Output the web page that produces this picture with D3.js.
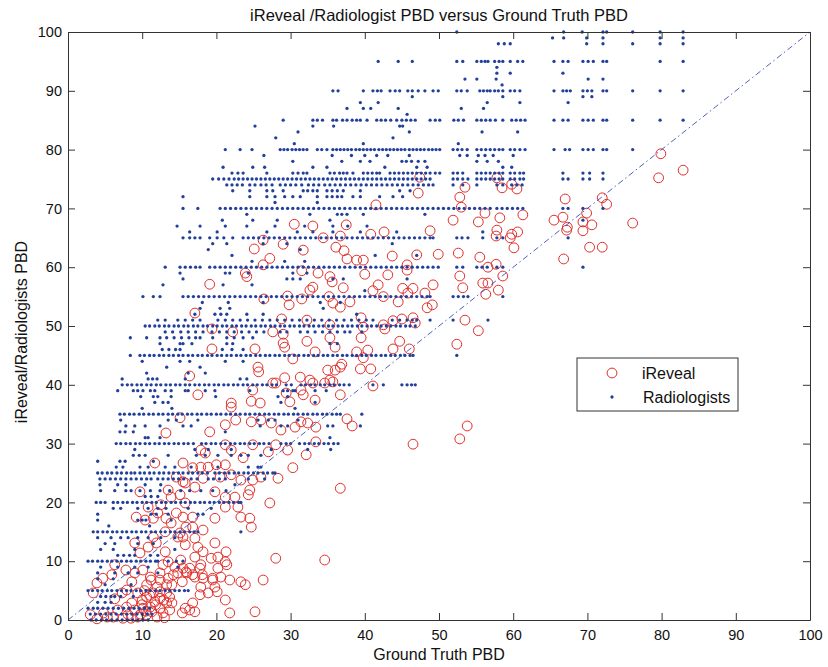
<!DOCTYPE html>
<html><head><meta charset="utf-8">
<script src="https://cdn.jsdelivr.net/npm/d3@7"></script>
<style>
body{margin:0;background:#fff}
text{font-family:"Liberation Sans",Arial,Helvetica,sans-serif;fill:#111}
</style>
</head><body>
<svg id="chart" width="828" height="667"></svg>
<script>
const title = "iReveal /Radiologist PBD versus Ground Truth PBD";
const xLabel = "Ground Truth PBD";
const yLabel = "iReveal/Radiologists PBD";
const xTicks = [0,10,20,30,40,50,60,70,80,90,100];
const yTicks = [0,10,20,30,40,50,60,70,80,90,100];
const seriesNames = ["iReveal","Radiologists"];

// Radiologist readings: one y level per entry of radLevels, x values (ground truth) in radXs
const radLevels = [100,99,98,95,94,93,92,91,90,89,88,87,86,85,84,83,82,81,80,79,78,77,76,75,74,73,72,71,70,69,68,67,66,65,64,63,62,61,60,59,58,57,56,55,54,53,52,51,50,49,48,47,46,45,44,43,42,41,40,39,38,37,36,35,34,33,32,31,30,29,28,27,26,25,24,23,22,21,20,19,18,17,16,15,14,13,12,11,10,9,8,7,6,5,4,3,2,1,0];
const radXs = [
/*100*/[52.4,66.8,69.3,72.1,72.6,76.1,79.8,82.9],
/*99*/[65.3,66.8,69.9,72.1,79.8,82.9],
/*98*/[58.0,58.8,59.6,69.9,72.1,76.1,79.8,82.9],
/*95*/[41.8,44.5,46.4,52.4,53.2,55.1,55.7,56.2,56.6,57.5,58.1,58.6,59.6,60.6,61.3,65.5,66.7,67.4,69.4,70.1,70.8,72.1,72.6,79.8,82.9],
/*94*/[57.8],
/*93*/[57.8,59.6,66.7],
/*92*/[53.5,55.1,57.7,70.1,72.1],
/*91*/[58.5],
/*90*/[35.7,36.4,39.8,41.1,41.7,42.2,43.4,44.1,44.7,45.8,46.4,47.2,48.1,49.2,49.9,52.4,53.0,53.8,55.5,56.0,56.5,56.9,57.5,58.0,58.6,59.6,60.2,60.9,65.5,66.7,67.2,67.7,69.4,70.0,70.6,72.1,72.6,76.1,79.8,82.9],
/*89*/[46.4,58.6,69.4,70.6],
/*88*/[39.4,41.8,56.5,60.9,67.4],
/*87*/[37.6,39.8,40.8,44.5,53.0,56.0],
/*86*/[45.7],
/*85*/[29.0,33.0,33.6,34.3,35.7,36.2,37.0,37.6,38.3,38.9,39.4,40.3,41.6,42.2,42.8,43.5,44.3,45.0,45.6,46.2,46.8,48.8,49.5,50.1,52.0,52.6,53.3,55.1,55.7,56.3,56.9,57.6,58.6,59.8,60.4,61.0,61.6,65.5,66.7,67.4,69.4,70.1,70.8,72.1,72.6,76.1,79.8,82.9],
/*84*/[25.2,33.0,35.8,44.7,45.1],
/*83*/[31.0,46.0,55.8,60.6],
/*82*/[28.0,43.8],
/*81*/[30.5,39.8,52.6],
/*80*/[21.2,23.2,24.8,28.6,29.1,29.6,30.2,30.7,31.2,31.7,32.2,33.6,34.2,34.9,35.7,36.2,36.7,37.2,37.7,38.2,38.8,39.3,39.8,40.3,40.8,41.3,41.9,42.4,42.9,43.4,43.9,44.4,44.9,45.4,46.0,46.5,47.0,47.5,48.0,48.6,49.1,49.6,50.1,51.9,52.5,53.1,53.8,55.1,55.7,56.3,56.9,57.5,58.1,58.6,59.6,60.2,60.9,61.6,65.5,67.0,67.6,69.4,70.1,70.8,72.1,72.6,76.1],
/*79*/[26.4,35.6,38.2,40.0,41.6,43.1,46.0,52.8,53.8,55.3,56.2,57.3,60.0],
/*78*/[30.3,36.9,39.4,40.7,45.0,45.6,46.3,47.2,48.1,55.1,56.5,58.0],
/*77*/[20.9,24.9,26.5,33.0,34.9,42.7,47.0,48.4,58.6,59.8],
/*76*/[22.1,22.9,23.6,26.8,30.3,31.0,31.7,32.2,35.3,35.9,36.6,37.1,37.6,38.4,39.8,40.4,41.0,41.6,42.0,43.4,44.0,44.6,45.2,45.8,46.4,47.0,47.6,48.2,48.8,49.5,50.1,51.9,52.5,53.2,55.1,55.7,56.3,56.9,57.5,58.1,58.6,59.6,60.2,60.9,61.4,66.7,69.4,70.3,72.1],
/*75*/[19.5,20.3,21.0,21.7,22.4,23.0,23.6,24.2,24.8,25.4,26.0,26.6,27.2,27.8,28.4,29.0,29.6,30.2,30.8,31.4,32.0,32.6,33.2,33.8,34.4,35.0,35.6,36.2,36.8,37.4,38.0,38.6,39.2,39.8,40.4,41.0,41.6,42.2,42.8,43.4,44.0,44.6,45.2,45.8,46.4,47.0,47.6,48.2,48.8,51.9,52.5,53.2,53.9,55.1,55.7,56.3,56.9,57.5,58.1,58.6,59.6,60.2,60.9,61.4,66.7,67.4,69.4,70.3,72.1],
/*74*/[21.4,22.1,22.8,23.5,24.5,25.2,26.0,26.7,27.5,28.6,29.3,30.0,30.7,31.5,32.4,33.1,33.8,34.6,35.3,36.0,36.7,37.4,38.1,38.8,39.5,40.2,40.9,41.6,42.3,43.0,43.7,44.4,45.1,45.8,46.5,47.2,47.9,48.6,49.2,51.9,53.2,55.1,57.8,58.6,59.8,60.5,61.2],
/*73*/[22.2,24.5,26.8,27.6,29.0,31.7,32.3,33.0,33.6,34.9,35.6,36.3,37.1,39.4,44.7,46.1],
/*72*/[15.5,24.5,26.8,27.9,29.2,30.3,31.3,33.6,34.9,35.6,36.3,36.9,38.4,39.4,42.0,43.8,45.1],
/*71*/[27.9,33.6],
/*70*/[15.5,17.5,20.5,21.2,21.9,22.6,23.3,24.0,24.7,25.4,26.1,26.8,27.5,28.2,28.9,29.6,30.3,31.0,31.7,32.4,33.1,33.8,34.5,35.2,35.9,36.6,37.3,38.0,38.7,39.4,40.1,40.8,41.5,42.2,42.9,43.6,44.3,45.0,45.7,46.4,47.1,47.8,48.5,49.2,49.9,50.6,51.3,52.0,52.7,53.4,54.1,54.8,55.5,56.2,56.9,57.8,58.5,59.2,59.9,60.6,61.3,66.7,67.4,69.4,72.1],
/*69*/[24.1,32.6,36.3,36.9,37.6,39.8,48.1],
/*68*/[20.8,24.9,28.2,35.3,69.4],
/*67*/[14.7,17.8,21.2,24.1,27.9,31.9,35.7,37.7,40.3],
/*66*/[16.4,20.1,26.8,30.9,33.0,35.7,39.4,44.3,55.9],
/*65*/[15.5,16.4,17.1,17.8,19.1,20.1,21.0,22.2,23.6,24.3,25.0,25.7,26.4,27.1,27.8,28.5,29.2,29.9,30.6,31.3,32.0,32.7,33.4,34.1,34.8,35.5,36.2,36.9,37.6,38.3,39.0,39.7,40.4,41.1,41.8,42.5,43.2,43.9,44.6,45.3,46.0,46.7,47.4,48.1,48.8,49.2,52.4,53.1,53.9,55.9,57.8,58.6,67.4],
/*64*/[19.5,21.4,26.3,29.5,43.7],
/*63*/[18.9,31.3],
/*62*/[22.1,41.4,47.0],
/*61*/[24.8,29.2,31.9],
/*60*/[13.1,15.1,15.8,16.5,17.2,17.8,19.1,19.8,20.5,21.2,21.9,22.6,23.3,24.0,24.7,25.4,26.1,26.8,27.5,28.2,28.9,29.6,30.3,31.0,31.7,32.4,33.1,33.8,34.5,35.2,35.9,36.6,37.3,38.0,38.7,39.4,40.1,40.8,41.5,42.2,42.9,43.6,44.3,45.0,45.7,46.4,47.1,47.8,48.5,49.2,49.9,52.4,53.2,55.1,55.8,56.5,57.8,58.6,69.4],
/*59*/[15.1,21.2,21.8,24.3,30.3,32.2],
/*58*/[15.5,29.5,30.3,31.3,35.7,37.1,45.7],
/*57*/[12.8,20.9,24.8],
/*56*/[40.0],
/*55*/[10.1,11.5,12.4,15.5,16.2,16.9,17.6,18.3,19.0,19.7,20.4,21.1,21.8,22.5,23.2,23.9,24.6,25.3,26.0,26.7,27.4,28.1,28.8,29.5,30.2,30.9,31.6,32.3,33.0,33.7,34.4,35.1,35.8,36.5,37.2,37.9,38.6,39.3,40.0,40.7,41.4,42.1,42.8,43.5,44.2,44.9,45.6,46.3,47.0,47.7,48.4,48.8,51.9,52.6,53.3,53.9,58.6],
/*54*/[18.1,21.6,26.3,34.0,36.7],
/*53*/[17.8,20.5,21.8,34.4],
/*52*/[17.1,19.8,20.6,21.4,24.1,26.3,38.9],
/*51*/[12.1,13.1,14.8,15.8,16.8,17.8,20.2,21.2,22.2,23.2,24.2,25.2,26.2,27.2,28.2,29.2,30.2,31.2,32.2,33.2,34.2,35.2,36.2,37.2,38.2,39.2,40.2,41.1,43.7,44.7,45.7,46.4,47.0,48.8,51.9,56.6],
/*50*/[10.4,11.0,11.7,12.3,13.0,13.6,14.3,14.9,15.6,16.2,16.9,17.5,18.2,18.8,19.5,20.1,20.8,21.4,22.1,22.7,23.4,24.0,24.7,25.3,26.0,26.6,27.3,27.9,28.6,29.2,29.9,30.5,31.2,31.8,32.5,33.1,33.8,34.4,35.1,35.7,36.4,37.0,37.7,38.3,39.0,39.6,40.3,40.9,41.6,42.2,42.9,43.5,44.2,44.8,45.5,46.1,46.8],
/*49*/[13.1,14.1,15.2,16.2,17.2,18.2,19.4,20.4,21.4,22.4,23.4,24.4,25.4,26.4,28.6,29.5,31.3,32.3,33.3,34.3,35.3,36.3,37.3,38.0,39.6],
/*48*/[8.4,10.6,12.4,13.3,14.3,15.3,16.3,17.2,17.8,19.5,21.4,22.4,23.6,24.9],
/*47*/[12.4,15.1,15.5,16.7,21.4,22.2,35.3,36.3],
/*46*/[12.7,13.6,14.5,15.1,20.8,22.1,23.6],
/*45*/[8.4,9.7,10.3,11.0,11.6,12.3,12.9,13.6,14.2,14.9,15.5,16.2,16.8,17.5,18.1,18.8,19.4,20.1,20.7,21.4,22.0,22.7,23.3,24.0,24.6,25.3,25.9,26.6,27.2,27.9,28.5,29.2,29.8,30.5,31.1,31.8,32.4,33.1,33.7,34.4,35.0,35.7,36.3,37.0,37.6,38.3,38.9,39.6,40.2,40.9,41.5,42.2,42.8,43.5,44.1,44.8,45.4,46.1,46.5,52.4],
/*44*/[10.0,15.1,16.4,21.2,23.6],
/*43*/[13.3,17.8],
/*42*/[10.6,16.2,18.5],
/*41*/[7.3,10.8,11.4,12.0,15.8,23.2,24.1],
/*40*/[7.3,8.0,8.6,9.3,9.9,10.6,11.2,11.9,12.5,13.2,13.8,14.5,15.1,15.8,16.4,17.1,17.7,18.4,19.0,19.7,20.3,21.0,21.6,22.3,22.9,23.6,24.2,24.9,25.5,26.2,26.8,27.5,28.1,29.4,30.1,31.4,32.0,32.7,33.3,34.0,34.6,35.3,35.9,36.6,37.2,37.9,41.1,42.5,45.0,45.7,46.3,46.8],
/*39*/[6.7,8.8,9.4,10.1,11.1,11.7,13.1,13.9,15.8,16.2,18.5,19.8,24.5,29.0,29.6,30.3,30.6,33.3,34.8],
/*38*/[9.8,11.5,12.1,13.9,19.9,28.3,29.6],
/*37*/[11.7,12.8,13.5,28.7,33.3],
/*36*/[10.0,14.0,30.6],
/*35*/[7.0,7.6,8.3,8.9,9.6,10.2,10.9,11.5,12.2,12.8,13.5,14.1,14.8,15.4,16.1,16.7,17.4,18.0,18.7,19.3,20.0,20.6,21.3,21.9,22.6,23.2,23.9,24.5,25.2,25.8,26.5,27.1,27.8,28.4,29.1,29.7,30.4,31.0,31.7,32.3,33.0,33.6,34.3,34.9,35.6,36.2,36.7,39.6],
/*34*/[7.1,13.5,14.6,17.5,25.6,27.0,27.9,31.0],
/*33*/[7.8,9.0,10.4,12.4,15.5,16.6,25.9,28.7,29.6,35.0,35.7,39.4],
/*32*/[7.0,7.7,8.8,21.2],
/*31*/[10.4,10.8,12.4,35.3],
/*30*/[6.5,7.1,7.8,8.4,9.1,9.7,10.4,11.0,11.7,12.3,13.0,13.6,14.3,14.9,15.6,16.2,16.9,18.0,18.6,19.3,19.9,20.6,21.2,21.9,22.5,23.2,23.8,24.5,25.1,25.8,26.4,27.1,28.7,29.4,30.0,31.2,31.9,32.5,33.2,33.8,34.5,35.1,35.8,36.4],
/*29*/[9.0,17.1,18.9,22.0,27.4,32.3,35.4],
/*28*/[8.8,9.6,10.4,13.5,17.3,18.5,20.2,22.0,23.3,24.3,26.0],
/*27*/[4.0,7.0,7.7,11.5],
/*26*/[6.5,7.4,9.7,10.8,13.1,14.4,16.6,20.2,24.3,25.6,26.0],
/*25*/[4.0,4.6,5.3,5.9,6.6,7.2,7.9,8.5,9.0,9.7,10.3,11.0,11.6,12.3,12.9,13.6,14.2,14.9,15.5,16.2,16.8,17.5,18.1,18.8,19.8,20.4,21.1,21.7,22.4,23.0,23.7,24.3,25.0,25.6,26.3,26.9,27.6,27.9],
/*24*/[4.3,5.0,5.7,6.4,7.1,7.8,8.5,9.2,9.9,10.6,11.2,12.1,12.8,13.5,14.2,14.9,15.6,16.6,17.4,18.9,19.6,20.4,21.2,24.3,26.5],
/*23*/[4.3,6.7,7.8,10.4,12.5,22.5],
/*22*/[4.4,6.3,7.8,8.5,9.7,11.1,12.4,13.7,15.2,16.4,17.9,19.5,21.3],
/*21*/[10.4,11.2,12.1],
/*20*/[3.8,4.4,5.0,6.1,6.7,7.4,8.0,8.7,9.3,10.0,10.6,11.3,11.9,12.6,13.2,13.9,14.5,15.2,15.8,16.5,17.1,17.8,18.4,19.1,19.7,20.4,21.0,21.7,22.3,23.0,23.3],
/*19*/[6.1,7.1,9.4,10.8,12.1,13.2,16.2,19.3],
/*18*/[4.0,11.2,11.9,13.5,17.5,18.2],
/*17*/[4.0,9.4,10.0,10.5,13.9],
/*16*/[5.5,11.0],
/*15*/[3.4,4.0,4.7,5.3,6.0,6.6,7.3,7.9,8.6,9.2,9.9,10.5,11.2,11.8,12.5,13.1,13.8,14.4,15.1,15.7,16.4,17.0,17.5,23.3],
/*14*/[4.0,5.8,7.1,8.1,9.4,10.8,12.5,14.4],
/*13*/[5.0,6.3,9.4,11.5],
/*12*/[4.4,6.1,9.0,14.4],
/*11*/[6.7,7.5,8.3,9.0,11.1,12.1],
/*10*/[2.7,3.3,4.0,4.6,5.3,5.9,6.6,7.2,7.9,8.5,9.2,9.8,10.5,11.1,11.8,12.1,13.5,14.6,15.5],
/*9*/[4.4,6.7,9.0,10.8,14.8],
/*8*/[4.0,6.3,8.1,9.4,12.1],
/*7*/[4.0,6.1],
/*6*/[5.0,8.5],
/*5*/[2.7,3.3,4.0,4.6,5.3,5.9,6.6,7.2,7.9,8.5,9.2,9.8,10.5,11.1,11.8,12.4,13.1,13.7,14.4,15.0,15.7,16.2],
/*4*/[4.4,5.1,5.8,6.3,7.1,8.8],
/*3*/[4.0,5.0,5.8],
/*2*/[2.7,3.4,4.0,4.7,5.4,6.1,6.8,7.5,8.2,8.9,9.6,10.3,11.0],
/*1*/[3.0,3.7,4.4,5.1,5.8,6.5,7.2,7.9,8.6,9.3,10.0,10.7,11.3],
/*0*/[3.1,3.8,4.5,5.2,5.9,6.6,7.3,8.0,8.7,9.4,10.1,10.8]
];

// iReveal estimates: [ground truth PBD, iReveal PBD]
const iReveal = [
[79.9,79.3],[82.9,76.5],[79.6,75.2],[67.0,71.6],[72.0,71.8],[72.6,70.7],[69.9,69.2],[66.7,68.5],[65.5,68.0],[67.3,66.8],[67.2,66.3],[69.4,67.7],[70.6,67.2],[69.4,66.2],[76.1,67.5],[70.3,63.4],[72.0,63.4],[66.8,61.4],
[61.3,68.9],[58.2,68.4],[56.2,69.2],[55.3,67.7],[51.9,68.0],[57.8,66.3],[57.7,65.3],[59.8,65.6],[60.6,66.0],[59.6,65.0],[60.1,63.3],[52.6,62.4],[55.5,61.7],[56.6,60.0],[57.7,60.5],[58.6,58.5],[52.8,58.5],[49.9,62.2],[47.0,62.1],[45.7,60.4],[45.7,59.5],[43.7,61.9],[43.1,58.7],[40.0,58.8],[39.8,61.2],[38.9,61.2],[37.6,61.4],[37.2,62.8],[36.1,63.4],[48.8,66.2],[42.6,66.0],[40.8,65.6],[36.7,65.3],[37.5,67.2],[41.5,70.6],[53.0,70.2],[52.8,71.9],[53.5,73.6],[47.2,72.6],[47.4,75.3],[57.8,75.2],[58.5,73.5],[59.8,74.1],[60.5,73.3],
[53.2,56.5],[55.9,57.3],[56.6,57.3],[56.3,55.4],[58.0,56.1],[49.2,57.0],[48.1,55.6],[46.5,56.4],[45.1,56.4],[45.8,55.6],[44.5,54.1],[41.8,57.0],[42.5,55.0],[41.1,56.0],[49.1,53.6],[48.4,53.1],[38.0,54.1],[36.7,53.2],[35.7,53.9],[37.1,56.5],[53.5,51.0],[55.3,49.2],[52.4,46.9],[46.5,51.4],[46.8,50.5],[45.0,51.2],[43.8,50.9],[42.5,50.2],[42.7,49.5],[39.5,51.4],[39.8,49.8],[39.5,48.0],[44.7,47.4],[43.8,46.1],[46.0,46.1],[40.4,45.9],[38.9,45.6],[39.8,44.6],[36.0,46.4],[36.9,43.5],[39.4,42.7],[40.8,42.7],[36.0,42.5],[35.7,40.5],[41.1,39.8],[36.7,38.3],[37.6,34.2],[38.3,33.0],[46.5,29.9],[53.8,33.0],[52.8,30.8],[36.7,22.4],
[30.5,67.3],[33.0,67.0],[34.4,65.0],[26.3,64.6],[29.0,63.9],[31.7,62.9],[25.1,63.1],[27.2,61.5],[26.3,60.4],[31.5,59.4],[33.7,59.0],[23.9,59.0],[24.1,58.4],[19.1,57.1],[35.3,58.4],[35.6,57.5],[33.0,56.6],[32.6,56.1],[35.2,55.0],[29.6,55.1],[29.8,53.6],[31.5,54.6],[26.4,54.6],
[17.1,52.2],[28.8,51.2],[32.2,51.0],[35.3,50.2],[27.6,49.0],[29.0,48.6],[19.4,49.5],[22.2,49.0],[29.0,47.1],[32.2,47.4],[29.2,46.4],[35.3,48.0],[19.4,46.1],[25.2,46.1],[30.3,44.4],[33.3,45.6],[25.6,43.0],[25.7,42.2],[16.4,41.5],[29.2,41.2],[31.3,41.3],[32.6,40.8],[33.0,40.3],[35.0,42.5],[36.7,43.0],[35.3,40.8],[27.6,40.3],
[17.5,38.3],[22.0,36.9],[22.0,36.2],[24.9,39.1],[24.7,37.2],[25.9,36.9],[28.0,40.3],[29.4,38.6],[29.9,37.1],[31.4,39.1],[31.7,38.3],[33.3,37.4],[34.6,40.3],[22.6,34.0],[21.2,33.2],[15.1,34.4],[24.7,33.7],[26.0,34.0],[27.4,33.5],[28.7,32.3],[30.6,32.8],[31.4,33.7],[32.3,33.5],[33.4,32.8],[13.2,31.8],[19.1,32.0],[17.9,28.9],[21.2,29.8],[22.0,28.9],[23.6,27.6],[24.9,29.8],[27.0,28.6],[28.0,29.8],[29.6,28.9],[32.1,28.1],[33.4,30.3],[30.3,25.9],[28.3,24.1],[27.2,19.9],[26.0,24.3],[24.9,23.8],[24.5,22.1],[23.3,23.8],[21.2,26.4],[20.5,24.3],[22.0,24.7],[17.9,26.0],[18.2,24.1],[15.8,23.3],[17.1,22.6],[19.8,21.8],[21.2,20.9],[22.5,20.9],[24.3,21.3],[21.2,19.2],[22.9,19.2],[23.3,17.5],[24.5,17.3],[24.7,15.8],[16.8,17.5],[16.8,15.8],[19.8,17.3],[14.8,14.1],[15.8,12.8],[17.1,10.7],[17.9,9.4],[19.3,10.5],[20.2,10.7],[19.8,13.1],[21.3,11.6],[21.2,9.9],[19.5,7.1],[20.6,7.3],[21.8,6.8],[23.3,6.5],[26.3,6.8],[28.0,10.5],[34.6,10.2],[25.2,1.4],[21.8,1.2],
[11.5,17.3],[9.0,13.1],[9.7,11.4],[13.1,11.6],[11.9,13.1],[10.8,12.4],[13.5,9.9],[15.1,14.8],[13.9,16.5],[15.5,17.5],[14.6,18.2],[15.9,15.8],[15.5,14.1],[17.1,13.9],[18.2,15.3],[17.5,12.4],[18.2,11.6],[15.2,10.2],[14.4,9.0],[14.8,8.0],[15.9,8.2],[17.1,7.3],[18.2,7.1],[17.9,5.6],[19.8,5.6],[13.5,7.1],[12.4,8.0],[11.2,6.8],[9.0,8.0],[7.8,8.5],[6.3,9.4],[4.7,7.1],[3.4,4.6],[9.7,21.8],[10.8,19.2],[12.1,18.2],[12.5,19.6],[13.2,17.3],[10.4,17.0],[11.5,14.1],[13.1,15.0],[13.5,22.1],[13.9,20.9],[15.1,21.3],[15.8,19.9],[14.6,24.3],[15.5,23.5],[9.2,17.5],[11.7,26.7],[18.5,28.4],[18.9,26.0],[20.0,26.4],[15.5,26.7],[16.8,25.9],
[3.0,0.9],[3.9,0.2],[3.9,6.3],[5.9,7.7],[6.3,3.6],[7.3,4.6],[7.9,5.1],[8.6,6.5],[10.1,8.5],[10.6,6.0],[11.1,7.3],[12.0,5.6],[12.4,6.8],[13.3,6.0],[14.0,6.0],[14.2,7.7],[15.4,6.5],[16.0,8.0],[16.4,8.8],[16.8,7.7],[17.8,8.8],[18.1,7.7],[12.8,9.4],[15.5,8.8],[17.8,4.3],[18.9,4.6],[20.1,4.8],[19.5,6.8],[21.2,3.4],[23.9,6.0],[20.2,8.8],[21.4,9.4],[16.8,2.9],[15.8,2.0],[17.1,1.4],[16.4,1.7],[15.4,1.2],[13.7,1.7],[13.3,2.9],[13.7,3.9],[12.4,3.7],[12.0,0.5],[11.1,2.2],[10.6,0.9],[10.0,3.4],[10.1,2.0],[9.4,0.5],[9.0,1.7],[8.1,0.9],[7.4,0.3],[6.7,1.7],[6.1,0.5],[5.3,0.5],[4.8,1.2],[11.5,4.6],[10.6,3.9],[11.7,3.1],[12.4,2.0],[12.8,1.2],[11.3,1.4],[10.0,2.6],[9.4,4.6],[8.6,2.9],[7.9,2.2],[12.4,4.8],[13.3,4.6],[14.0,2.9],[10.5,1.5],[11.8,2.6],[9.8,1.0],[12.9,3.4],[11.0,4.2],[10.3,5.0],[8.5,0.3],[13.0,0.4]
];

const W = 828, H = 667;
const svg = d3.select("#chart");
const x = d3.scaleLinear().domain([0,100]).range([68,810]);
const y = d3.scaleLinear().domain([0,100]).range([620,32]);

const RED = "#e0302b", BLUE = "#22409b";

// iReveal circles
svg.append("g").selectAll("circle").data(iReveal).join("circle")
  .attr("cx", d => x(d[0])).attr("cy", d => y(d[1])).attr("r", 4.9)
  .attr("fill", "none").attr("stroke", RED).attr("stroke-width", 1);

// Radiologist dots
const radPts = radLevels.flatMap((lv, i) => radXs[i].map(v => [v, lv]));
svg.append("g").selectAll("circle").data(radPts).join("circle")
  .attr("cx", d => x(d[0])).attr("cy", d => y(d[1])).attr("r", 1.65)
  .attr("fill", BLUE);

// identity line
svg.append("line")
  .attr("x1", x(0)).attr("y1", y(0)).attr("x2", x(100)).attr("y2", y(100))
  .attr("stroke", "#3b4fb3").attr("stroke-width", 0.9)
  .attr("stroke-dasharray", "6,3,1.5,3");

// axes
const axColor = "#333";
function styleAxis(g){
  g.select(".domain").attr("stroke", axColor);
  g.selectAll(".tick line").attr("stroke", axColor);
  g.selectAll(".tick text").attr("fill", "#111").style("font-size","14.5px")
   .style("font-family",'"Liberation Sans",Arial,sans-serif');
}
svg.append("g").attr("transform", `translate(0,${y(0)})`)
  .call(d3.axisBottom(x).tickValues(xTicks).tickSizeInner(-7).tickSizeOuter(0).tickPadding(9.5).tickFormat(d3.format("d")))
  .call(styleAxis);
svg.append("g").attr("transform", `translate(0,${y(100)})`)
  .call(d3.axisTop(x).tickValues(xTicks).tickSizeInner(-7).tickSizeOuter(0).tickFormat(""))
  .call(styleAxis);
svg.append("g").attr("transform", `translate(${x(0)},0)`)
  .call(d3.axisLeft(y).tickValues(yTicks).tickSizeInner(-7).tickSizeOuter(0).tickPadding(6).tickFormat(d3.format("d")))
  .call(styleAxis);
svg.append("g").attr("transform", `translate(${x(100)},0)`)
  .call(d3.axisRight(y).tickValues(yTicks).tickSizeInner(-7).tickSizeOuter(0).tickFormat(""))
  .call(styleAxis);
svg.selectAll(".domain").attr("fill","none");

// title and labels
svg.append("text").attr("x", 439).attr("y", 21).attr("text-anchor","middle")
  .style("font-size","16.5px").text(title);
svg.append("text").attr("x", 439).attr("y", 660).attr("text-anchor","middle")
  .style("font-size","16px").text(xLabel);
svg.append("text").attr("transform","translate(27,332) rotate(-90)").attr("text-anchor","middle")
  .style("font-size","16px").text(yLabel);

// legend
const lg = svg.append("g");
lg.append("rect").attr("x",577).attr("y",358).attr("width",161).attr("height",53)
  .attr("fill","#fff").attr("stroke","#333").attr("stroke-width",1);
lg.append("circle").attr("cx",612).attr("cy",373).attr("r",4.9)
  .attr("fill","none").attr("stroke",RED).attr("stroke-width",1);
lg.append("circle").attr("cx",612).attr("cy",397).attr("r",1.65).attr("fill",BLUE);
lg.append("text").attr("x",642).attr("y",379).style("font-size","16px").text(seriesNames[0]);
lg.append("text").attr("x",643).attr("y",403).style("font-size","16px").text(seriesNames[1]);
</script>
</body></html>
